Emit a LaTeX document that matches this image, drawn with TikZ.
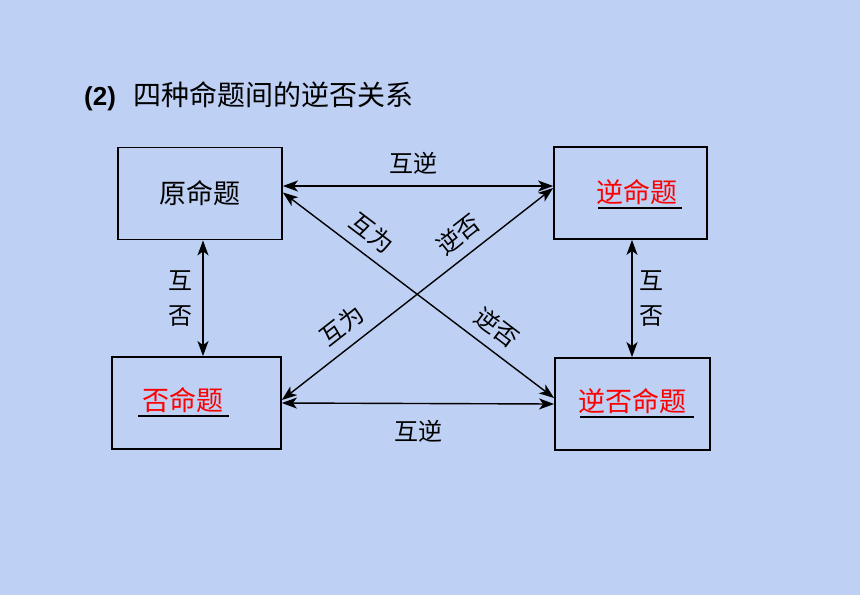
\documentclass[tikz,border=0pt]{standalone}
\usepackage{fontspec}
\setmainfont{Liberation Sans}
\newfontfamily\zh{Noto Sans CJK SC}
\usetikzlibrary{arrows.meta}
\definecolor{fondo}{RGB}{190,208,243}
\tikzset{
  caja/.style={draw,line width=1.8pt,minimum width=#1,minimum height=92pt,inner sep=0pt,
    font=\zh\fontsize{27}{27}\selectfont},
  rojo/.style={text=red,inner sep=0pt,font=\zh\fontsize{27}{27}\selectfont},
  etiqueta/.style={font=\zh\fontsize{24}{35}\selectfont,inner sep=2pt},
  flecha/.style={{Stealth[length=15pt,width=11pt,inset=4pt]}-{Stealth[length=15pt,width=11pt,inset=4pt]},line width=1.4pt},
  subraya/.style={line width=1.6pt}
}
\begin{document}
\begin{tikzpicture}[x=1pt,y=-1pt]
  % Fondo
  \fill[fondo] (0,0) rectangle (860,595);
  \useasboundingbox (0,0) rectangle (860,595);

  % Titulo
  \node[anchor=west,inner sep=0pt] (titulo) at (84,96)
    {\fontsize{26}{30}\selectfont\textbf{(2)}\hspace{18pt}{\zh\fontsize{28}{30}\selectfont 四种命题间的逆否关系}};

  % Cajas
  \node[caja=164pt] (yuan) at (200,193.5) {原命题};
  \node[caja=153pt] (ni) at (630.5,193) {};
  \node[caja=169pt] (fou) at (196.5,403) {};
  \node[caja=155pt] (nifou) at (632.5,404) {};

  % Textos en rojo, subrayados
  \node[rojo] (tni) at (637,192) {逆命题};
  \node[rojo] (tfou) at (183,400) {否命题};
  \node[rojo] (tnifou) at (632,401) {逆否命题};
  \draw[subraya] ([xshift=2pt,yshift=-3pt]tni.south west) -- ([xshift=4pt,yshift=-3pt]tni.south east);
  \draw[subraya] ([xshift=-4pt,yshift=-3pt]tfou.south west) -- ([xshift=5pt,yshift=-3pt]tfou.south east);
  \draw[subraya] ([xshift=2pt,yshift=-3pt]tnifou.south west) -- ([xshift=8pt,yshift=-3pt]tnifou.south east);

  % Flechas horizontales
  \draw[flecha] ([yshift=7.5pt]yuan.east) -- ([yshift=7pt]ni.west)
    node[midway,yshift=23pt,xshift=-5pt,etiqueta] (l1) {互逆};
  \draw[flecha] (fou.east) -- (nifou.west)
    node[midway,yshift=-28pt,etiqueta] (l2) {互逆};

  % Flechas verticales
  \draw[flecha] ([xshift=3pt]yuan.south) -- ([xshift=3pt]yuan.south |- fou.north)
    node[midway,xshift=-23pt,align=center,etiqueta] (l3) {互\\否};
  \draw[flecha] ([xshift=1.5pt]ni.south) -- ([xshift=1.5pt]ni.south |- nifou.north)
    node[midway,xshift=19pt,align=center,etiqueta] (l4) {互\\否};

  % Diagonales
  \draw[flecha] ([yshift=1pt]yuan.east) -- ([yshift=6pt]nifou.west)
    node[pos=0.28,sloped,above=8pt,etiqueta] (l5) {互为}
    node[pos=0.74,sloped,above=8pt,etiqueta] (l6) {逆否};
  \draw[flecha] ([yshift=3pt]fou.east) -- ([yshift=5pt]ni.west)
    node[pos=0.27,sloped,above=8pt,etiqueta] (l7) {互为}
    node[pos=0.70,sloped,above=8pt,etiqueta] (l8) {逆否};
\end{tikzpicture}
\end{document}
